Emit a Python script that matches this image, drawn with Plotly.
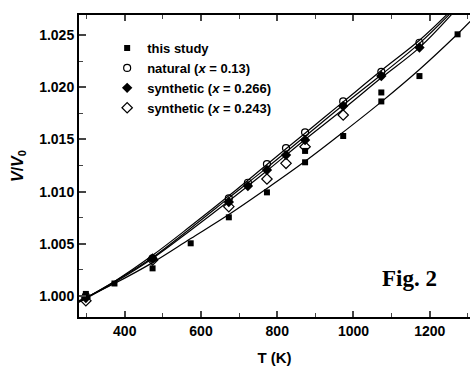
import plotly.graph_objects as go

# ---- data ----
T_this = [298, 373, 473, 573, 673, 773, 873, 873, 973, 1073, 1073, 1173, 1273]
V_this = [1.0002, 1.0012, 1.00265, 1.00505, 1.00754, 1.00993, 1.01281, 1.01390,
          1.01533, 1.01864, 1.01950, 1.02107, 1.02507]

T_nat = [298, 473, 673, 723, 773, 823, 873, 973, 1073, 1173]
V_nat = [1.0000, 1.00361, 1.00936, 1.01085, 1.01264, 1.01417, 1.01568, 1.01864, 1.02148, 1.02426]

T_s266 = [298, 473, 673, 723, 773, 823, 873, 973, 1073, 1173]
V_s266 = [0.9998, 1.0036, 1.0090, 1.01054, 1.01207, 1.0135, 1.01494, 1.0182, 1.02107, 1.02381]

T_s243 = [298, 473, 673, 773, 823, 873, 973]
V_s243 = [0.99955, 1.00345, 1.00856, 1.01121, 1.01271, 1.0143, 1.01734]

# fitted curves
Tc_this = [280, 373, 473, 573, 673, 773, 873, 973, 1073, 1173, 1273, 1306]
Vc_this = [0.99955, 1.0012, 1.0032, 1.0055, 1.0078, 1.0103, 1.0129, 1.0157, 1.0186, 1.0217, 1.0251, 1.0263]

Tc_nat = [280, 373, 473, 573, 673, 773, 873, 973, 1073, 1173, 1246]
Vc_nat = [0.99945, 1.0014, 1.0039, 1.0067, 1.0096, 1.0126, 1.0156, 1.0186, 1.0216, 1.0245, 1.0270]

Tc_s266 = [280, 373, 473, 573, 673, 773, 873, 973, 1073, 1173, 1252]
Vc_s266 = [0.99945, 1.0014, 1.0037, 1.0065, 1.0094, 1.0123, 1.0153, 1.0183, 1.0212, 1.0242, 1.0270]

Tc_s243 = [280, 373, 473, 573, 673, 773, 873, 973, 1073, 1173, 1258]
Vc_s243 = [0.9994, 1.0013, 1.0036, 1.0063, 1.0091, 1.0120, 1.0150, 1.0179, 1.0209, 1.0238, 1.0270]

names = ["this study", "natural (<i>x</i> = 0.13)",
         "synthetic (<i>x</i> = 0.266)", "synthetic (<i>x</i> = 0.243)"]

fig = go.Figure()

for Tc, Vc in [(Tc_this, Vc_this), (Tc_nat, Vc_nat), (Tc_s266, Vc_s266), (Tc_s243, Vc_s243)]:
    fig.add_trace(go.Scatter(x=Tc, y=Vc, mode="lines", line=dict(color="black", width=1.2, shape="spline"),
                             showlegend=False, hoverinfo="skip"))

fig.add_trace(go.Scatter(x=T_this, y=V_this, mode="markers", name=names[0],
                         marker=dict(symbol="square", size=6, color="black")))
fig.add_trace(go.Scatter(x=T_nat, y=V_nat, mode="markers", name=names[1],
                         marker=dict(symbol="circle-open", size=7, color="black", line=dict(width=1.2))))
fig.add_trace(go.Scatter(x=T_s266, y=V_s266, mode="markers", name=names[2],
                         marker=dict(symbol="diamond", size=8, color="black")))
fig.add_trace(go.Scatter(x=T_s243, y=V_s243, mode="markers", name=names[3],
                         marker=dict(symbol="diamond-open", size=8, color="black", line=dict(width=1.2))))

fig.add_annotation(text="<b>Fig. 2</b>", x=0.846, y=0.126, xref="paper", yref="paper",
                   xanchor="center", yanchor="middle",
                   showarrow=False, font=dict(family="Liberation Serif", size=23, color="black"))

fig.update_layout(
    width=470, height=369,
    margin=dict(l=79, r=0, t=15, b=52, autoexpand=False),
    paper_bgcolor="white", plot_bgcolor="white",
    font=dict(family="Liberation Sans", size=14, color="black", weight="bold"),
    showlegend=True,
    legend=dict(x=0.072, y=0.94, xanchor="left", yanchor="top", bgcolor="rgba(0,0,0,0)",
                font=dict(size=13, weight="bold"), itemwidth=30, tracegroupgap=0),
    xaxis=dict(range=[280, 1305.6], dtick=200, tick0=0, ticks="inside", ticklen=6, tickwidth=1.5,
               showline=True, linewidth=2, linecolor="black", mirror="ticks", showgrid=False,
               zeroline=False, automargin=False,
               minor=dict(dtick=100, ticks="inside", ticklen=4, tickwidth=1.2),
               title=dict(text="T (K)", font=dict(size=15, weight="bold"), standoff=15)),
    yaxis=dict(range=[0.99799, 1.02692], dtick=0.005, tick0=1.0, tickformat=".3f", ticks="inside",
               ticklen=7, tickwidth=1.5, showline=True, linewidth=2, linecolor="black", mirror=False,
               showgrid=False, zeroline=False, automargin=False,
               minor=dict(dtick=0.0025, ticks="inside", ticklen=4, tickwidth=1.2),
               title=dict(text="<i>V</i>/<i>V</i><sub>0</sub>", font=dict(size=16, weight="bold"), standoff=12)),
)

fig.write_html("out.html", config={"displayModeBar": False},
               post_script="document.body.style.margin='0';document.body.style.overflow='hidden';")
